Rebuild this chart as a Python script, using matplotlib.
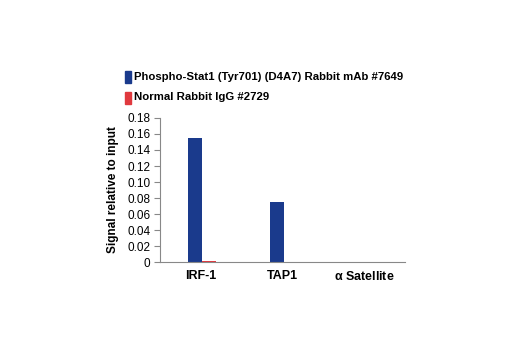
import matplotlib.pyplot as plt
import numpy as np

categories = ['IRF-1', 'TAP1', r'$\alpha$ Satellite']
stat1_values = [0.155, 0.075, 0.0]
igg_values = [0.002, 0.0, 0.0]
series_names = ['Phospho-Stat1 (Tyr701) (D4A7) Rabbit mAb #7649', 'Normal Rabbit IgG #2729']
yticks = [0, 0.02, 0.04, 0.06, 0.08, 0.10, 0.12, 0.14, 0.16, 0.18]
ytick_labels = ['0', '0.02', '0.04', '0.06', '0.08', '0.10', '0.12', '0.14', '0.16', '0.18']

blue = '#1a3a8c'
red = '#e0393e'

plt.rcParams['font.family'] = ['Liberation Sans', 'DejaVu Sans']
plt.rcParams['mathtext.default'] = 'regular'

fig = plt.figure(figsize=(5.2, 3.5), dpi=100)
ax = fig.add_axes([0.308, 0.251, 0.471, 0.412])

x = np.arange(len(categories))
w = 0.17
ax.bar(x - w / 2 + 0.012, stat1_values, w, color=blue)
ax.bar(x + w / 2 + 0.012, igg_values, w, color=red)

ax.set_xlim(-0.5, 2.5)
ax.set_ylim(0, 0.18)
ax.set_yticks(yticks)
ax.set_yticklabels(ytick_labels, fontsize=8.5)
ax.set_xticks(x)
ax.set_xticklabels(categories, fontsize=9, fontweight='bold')
ax.tick_params(axis='x', length=0, pad=6)
ax.tick_params(axis='y', length=4, color='#888888', pad=3)
for s in ['top', 'right']:
    ax.spines[s].set_visible(False)
for s in ['left', 'bottom']:
    ax.spines[s].set_color('#888888')
ax.set_ylabel('Signal relative to input', fontsize=8.5, fontweight='bold', labelpad=6)

# legend drawn by hand at top
colors = [blue, red]
for i, (name, c) in enumerate(zip(series_names, colors)):
    y = 0.78 - i * 0.058
    fig.patches.append(plt.Rectangle((0.240, y - 0.018), 0.012, 0.034, color=c,
                                     transform=fig.transFigure, figure=fig))
    fig.text(0.258, y, name, fontsize=8.2, fontweight='bold', va='center')

fig.savefig('out.png', dpi=100)
